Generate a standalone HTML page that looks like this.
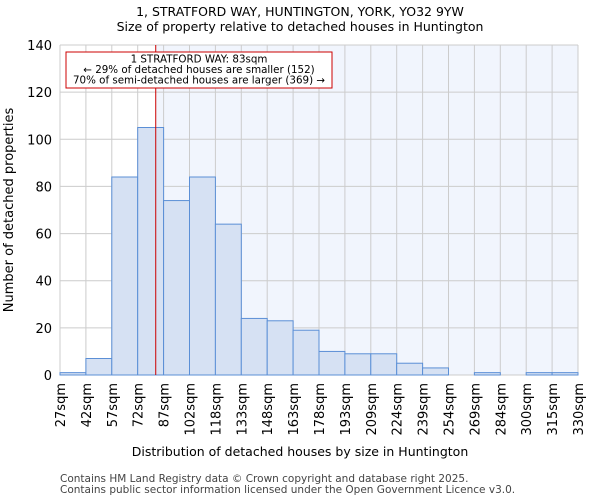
<!DOCTYPE html>
<html><head><meta charset="utf-8"><style>
body{margin:0;background:#fff;font-family:"DejaVu Sans","Liberation Sans",sans-serif}
svg text{font-family:"DejaVu Sans","Liberation Sans",sans-serif}
</style></head><body>
<svg id="c" width="600" height="500" xmlns="http://www.w3.org/2000/svg">
<text x="300" y="16" text-anchor="middle" font-size="12.5">1, STRATFORD WAY, HUNTINGTON, YORK, YO32 9YW</text>
<text x="300" y="31" text-anchor="middle" font-size="12.5">Size of property relative to detached houses in Huntington</text>
<g id="plot"></g>
<text x="300" y="456" text-anchor="middle" font-size="12.5">Distribution of detached houses by size in Huntington</text>
<text transform="translate(13,210) rotate(-90)" text-anchor="middle" font-size="13">Number of detached properties</text>
<text x="60" y="482" font-size="10.5" fill="#444">Contains HM Land Registry data © Crown copyright and database right 2025.</text>
<text x="60" y="493" font-size="10.5" fill="#444">Contains public sector information licensed under the Open Government Licence v3.0.</text>
</svg>
<script>
const categories=["27sqm","42sqm","57sqm","72sqm","87sqm","102sqm","118sqm","133sqm","148sqm","163sqm","178sqm","193sqm","209sqm","224sqm","239sqm","254sqm","269sqm","284sqm","300sqm","315sqm","330sqm"];
const counts=[1,7,84,105,74,84,64,24,23,19,10,9,9,5,3,0,1,0,1,1];
const yTicks=[0,20,40,60,80,100,120,140];
const propertySize=83;
const binStart=27, binEnd=330;
const X0=60,X1=578,Y0=375,Y1=45,YMAX=140;
const n=counts.length, bw=(X1-X0)/n;
const xPos=i=>X0+i*bw;
const xVal=v=>X0+(v-binStart)/(binEnd-binStart)*(X1-X0);
const y=v=>Y0-(v/YMAX)*(Y0-Y1);
const ns="http://www.w3.org/2000/svg";
const g=document.getElementById('plot');
function mk(t,a){const e=document.createElementNS(ns,t);for(const k in a)e.setAttribute(k,a[k]);g.appendChild(e);return e;}
const lx=xVal(propertySize);
let e=mk('rect',{x:lx,y:Y1,width:X1-lx,height:Y0-Y1,fill:'#f1f5fd'});


for(let i=0;i<=n;i++){e=mk('line',{x1:xPos(i),x2:xPos(i),y1:Y1,y2:Y0,stroke:'#ccc','stroke-width':1});

}
yTicks.forEach(t=>{e=mk('line',{x1:X0,x2:X1,y1:y(t),y2:y(t),stroke:'#ccc','stroke-width':1});


const tx=mk('text',{x:X0-8,y:y(t)+5,'text-anchor':'end','font-size':13});tx.textContent=t;

});
counts.forEach((c,i)=>{e=mk('rect',{x:xPos(i),y:y(c),width:bw,height:Y0-y(c),fill:'#d6e1f3',stroke:'#5b8fd6','stroke-width':1});

});
categories.forEach((c,i)=>{const tx=mk('text',{transform:`translate(${xPos(i)+5},383) rotate(-90)`,'text-anchor':'end','font-size':13});tx.textContent=c;

});
e=mk('line',{x1:lx,x2:lx,y1:Y1,y2:Y0,stroke:'#c00','stroke-width':1});


e=mk('rect',{x:66,y:52,width:266,height:36,fill:'#fff',stroke:'#c00','stroke-width':1});


["1 STRATFORD WAY: 83sqm","← 29% of detached houses are smaller (152)","70% of semi-detached houses are larger (369) →"].forEach((s,i)=>{const tx=mk('text',{x:199,y:62.5+i*10.5,'text-anchor':'middle','font-size':10.3});tx.textContent=s;

});
</script>
</body></html>
